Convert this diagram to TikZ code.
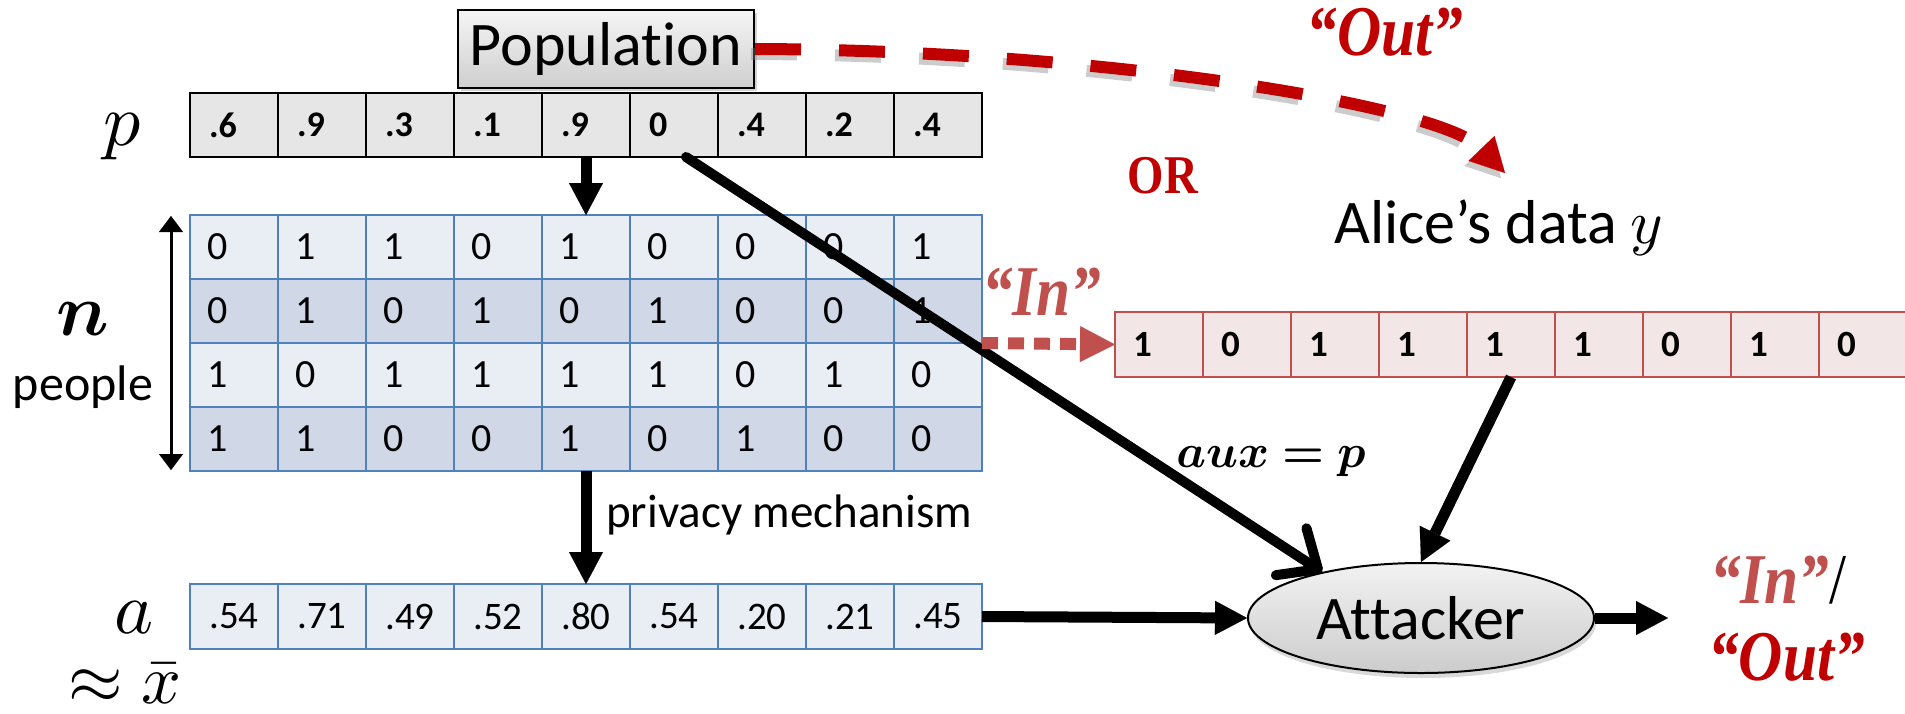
\documentclass[tikz,border=0pt]{standalone}
\usepackage{graphicx}
\usepackage{bm}
\usepackage[no-math]{fontspec}
\setmainfont{Carlito}[Ligatures={NoCommon}]
\newfontfamily\tnr{Liberation Serif}
\usetikzlibrary{arrows.meta,shadows,shapes.geometric,calc}

\definecolor{darkred}{HTML}{C00000}
\definecolor{inred}{HTML}{C0504D}
\definecolor{cellblue}{HTML}{4F81BD}
\definecolor{lightblue}{HTML}{E9EDF4}
\definecolor{midblue}{HTML}{D0D8E8}
\definecolor{pgray}{HTML}{E6E6E6}
\definecolor{rowpink}{HTML}{F2E6E6}

% math set at 10pt and scaled up
\newcommand{\bigmath}[2]{\scalebox{#1}{\normalsize$#2$}}
% narrow, tall serif for the quoted verdicts
\newcommand{\narrow}[1]{\scalebox{0.9}[1.05]{#1}}

\tikzset{
  cellbase/.style={rectangle, minimum width=88pt, minimum height=64pt,
    inner ysep=0pt, outer sep=0pt},
  pcell/.style={cellbase, draw=black, line width=2.5pt, fill=pgray,
    font=\fontsize{36}{40}\selectfont\bfseries,
    text width=50pt, inner xsep=19pt, align=left},
  mcell/.style={cellbase, draw=cellblue, line width=2pt,
    font=\fontsize{40}{44}\selectfont,
    text width=54pt, inner xsep=17pt, align=left},
  acell/.style={cellbase, minimum height=65pt, draw=cellblue, line width=2.5pt,
    fill=lightblue, font=\fontsize{39}{44}\selectfont,
    text width=70pt, inner xsep=9pt, align=center},
  rcell/.style={cellbase, minimum height=65pt, draw=inred, line width=2.5pt,
    fill=rowpink, font=\fontsize{37}{42}\selectfont\bfseries,
    text width=52pt, inner xsep=18pt, align=left},
  popbox/.style={rectangle, draw=black, line width=2pt,
    minimum width=296pt, minimum height=78pt, inner sep=0pt,
    top color=gray!8, bottom color=gray!38,
    drop shadow={shadow xshift=3pt, shadow yshift=-3pt, opacity=.35},
    font=\fontsize{62}{70}\selectfont},
  attnode/.style={ellipse, draw=black, line width=2pt,
    minimum width=346pt, minimum height=110pt, inner sep=0pt,
    top color=gray!10, bottom color=gray!40,
    drop shadow={shadow xshift=2pt, shadow yshift=-5pt, opacity=.3},
    font=\fontsize{62}{70}\selectfont},
  plaintext/.style={inner sep=0pt},
  quoteout/.style={inner sep=0pt, text=darkred,
    font=\tnr\fontsize{68}{74}\selectfont\bfseries\itshape},
  quotein/.style={inner sep=0pt, text=inred,
    font=\tnr\fontsize{68}{74}\selectfont\bfseries\itshape},
  thickarrow/.style={line width=11pt,
    -{Triangle[length=32pt,width=34pt,line width=0.1pt]}},
  barbarrow/.style={line width=10pt, line cap=round,
    -{Straight Barb[length=32pt,width=56pt,round]}},
  dblarrow/.style={line width=3pt,
    {Triangle[length=16pt,width=24pt,line width=0.1pt]}-{Triangle[length=16pt,width=24pt,line width=0.1pt]}},
  outarrow/.style={draw=darkred, line width=12pt, dash pattern=on 46pt off 38pt,
    -{Triangle[length=34pt,width=36pt,line width=0.1pt]}},
  outshadow/.style={draw=gray, opacity=.4, line width=12pt,
    dash pattern=on 46pt off 38pt,
    -{Triangle[length=34pt,width=36pt,line width=0.1pt]}},
  inarrow/.style={draw=inred, line width=12pt, dash pattern=on 16pt off 10pt,
    -{Triangle[length=35pt,width=36pt,line width=0.1pt]}},
}

\begin{document}
\begin{tikzpicture}[x=1pt,y=-1pt]
\useasboundingbox (0,0) rectangle (1905,713);

% population probabilities p
\foreach \v [count=\i] in {.6,.9,.3,.1,.9,0,.4,.2,.4}
  \node[pcell] (p\i) at ({190+88*(\i-0.5)},125) {\v};

% data matrix of n people
\foreach \row [count=\r] in {{0,1,1,0,1,0,0,0,1},{0,1,0,1,0,1,0,0,1},{1,0,1,1,1,1,0,1,0},{1,1,0,0,1,0,1,0,0}}{
  \ifodd\r \def\rowfill{lightblue}\else \def\rowfill{midblue}\fi
  \foreach \v [count=\c] in \row
    \node[mcell, fill=\rowfill] (m-\r-\c) at ({190+88*(\c-0.5)},{215+64*(\r-0.5)}) {\v};
}

% released statistics a
\foreach \v [count=\i] in {.54,.71,.49,.52,.80,.54,.20,.21,.45}
  \node[acell] (a\i) at ({190+88*(\i-0.5)},616.5) {\v};

% Alice's record
\foreach \v [count=\i] in {1,0,1,1,1,1,0,1,0}
  \node[rcell] (r\i) at ({1115+88*(\i-0.5)},344.5) {\v};

% boxes
\node[popbox] (pop) at (606,49) {Population};
\node[attnode] (att) at (1421,618) {Attacker};

% side labels
\node[plaintext, anchor=base] (plbl) at (122,145) {\bigmath{7.4}{p}};
\node[plaintext, anchor=base] (albl) at (134,633) {\bigmath{7.4}{a}};
\node[plaintext, anchor=base] (xbar) at (125,703) {\bigmath{7}{\approx\bar{x}}};
\node[plaintext, anchor=base] (nlbl) at (83,335) {\bigmath{7.4}{\bm{n}}};
\node[plaintext, anchor=base, font=\fontsize{50}{56}\selectfont] (people) at (83,400) {people};
\coordinate (ntop) at (171,216);
\coordinate (nbot) at (171,470);
\draw[dblarrow] (ntop) -- (nbot);

% texts on the right
\node[plaintext, anchor=base west, font=\fontsize{62}{70}\selectfont] (alice) at (1334,243) {Alice’s data \bigmath{6.2}{y}};
\node[quoteout, anchor=base] (outtop) at (1385,55) {\narrow{“Out”}};
\node[plaintext, anchor=base, text=darkred, font=\tnr\fontsize{52}{58}\selectfont\bfseries] (orlbl) at (1163,193) {\narrow{OR}};
\node[quotein, anchor=base west] (inlbl) at (982,315) {\narrow{“In”}};
\node[plaintext, anchor=base] (auxlbl) at (1271,467) {\bigmath{4.7}{\bm{aux=p}}};
\node[plaintext, anchor=base west, font=\fontsize{47}{52}\selectfont] (privlbl) at (606,527) {privacy mechanism};
\node[quotein, anchor=base west] (inres) at (1710,603) {\narrow{“In”\textcolor{black}{\textup{\mdseries/}}}};
\node[quoteout, anchor=base west] (outres) at (1708,680) {\narrow{“Out”}};

% connectors
\draw[thickarrow] (p5.south) -- (m-1-5.north);
\draw[thickarrow] (m-4-5.south) -- (a5.north);
\draw[barbarrow] ([xshift=12pt]p6.south) -- (att.155);
\draw[thickarrow] (r5.south) -- (att.north);
\draw[thickarrow] (a9.east) -- (att.west);
\coordinate (verdict) at (1668,618);
\draw[thickarrow] (att.east) -- (verdict);
\draw[inarrow] (m-2-9.south east) -- (r1.west);

\coordinate (outtip) at (1505,173);
\begin{scope}[transform canvas={shift={(-4pt,-5pt)}}]
  \draw[outshadow] (pop.east) .. controls (1100,50) and (1440,105) .. (outtip);
\end{scope}
\draw[outarrow] (pop.east) .. controls (1100,50) and (1440,105) .. (outtip);
\end{tikzpicture}
\end{document}
